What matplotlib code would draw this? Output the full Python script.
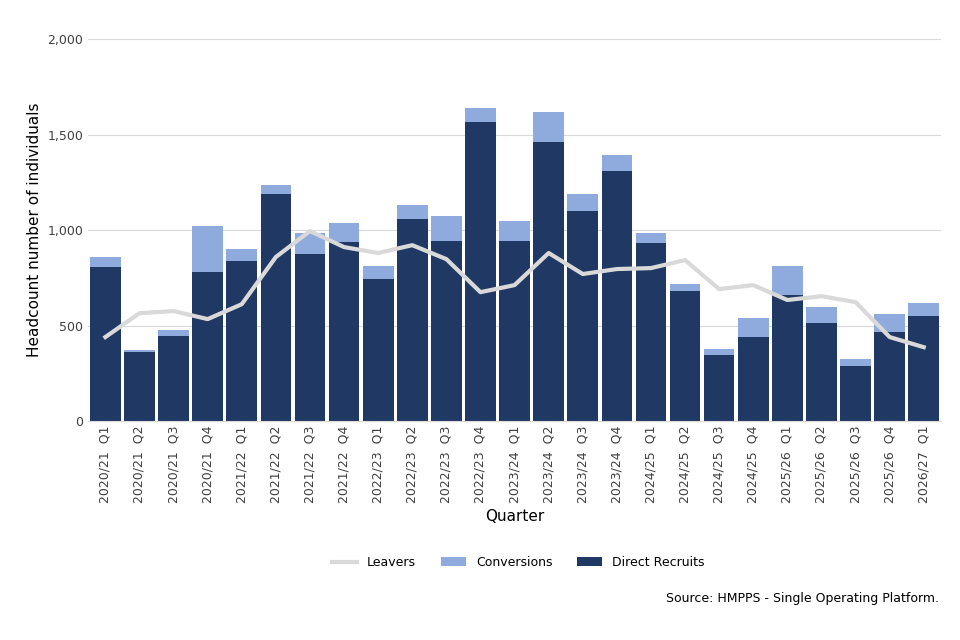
import numpy as np
import matplotlib.pyplot as plt
from matplotlib.ticker import FuncFormatter

quarters = ["2020/21  Q1", "2020/21  Q2", "2020/21  Q3", "2020/21  Q4",
            "2021/22  Q1", "2021/22  Q2", "2021/22  Q3", "2021/22  Q4",
            "2022/23  Q1", "2022/23  Q2", "2022/23  Q3", "2022/23  Q4",
            "2023/24  Q1", "2023/24  Q2", "2023/24  Q3", "2023/24  Q4",
            "2024/25  Q1", "2024/25  Q2", "2024/25  Q3", "2024/25  Q4",
            "2025/26  Q1", "2025/26  Q2", "2025/26  Q3", "2025/26  Q4",
            "2026/27  Q1"]
direct = [806, 361, 445, 780, 838, 1188, 874, 937, 743, 1058, 942, 1565,
          942, 1461, 1099, 1309, 932, 681, 346, 440, 660, 513, 288, 466, 550]
total = [859, 372, 476, 1021, 900, 1236, 984, 1037, 812, 1131, 1073, 1639,
         1047, 1618, 1188, 1393, 984, 717, 377, 539, 812, 597, 325, 560, 618]
leavers = [440, 565, 576, 534, 612, 859, 995, 911, 880, 921, 848, 675,
           712, 880, 770, 796, 801, 843, 691, 712, 634, 654, 623, 440, 387]

conversions = np.array(total) - np.array(direct)
x = np.arange(len(quarters))

fig = plt.figure(figsize=(9.6, 6.4), dpi=100)
ax = fig.add_axes([0.092, 0.342, 0.888, 0.597])

ax.bar(x, direct, width=0.9, color="#203864", label="Direct Recruits", zorder=2)
ax.bar(x, conversions, bottom=direct, width=0.9, color="#8faadc",
       label="Conversions", zorder=2)
ax.plot(x, leavers, color="#d9d9d9", lw=3, label="Leavers", zorder=3)

ax.set_xlim(-0.5, len(quarters) - 0.5)
ax.set_ylim(0, 2000)
ax.set_yticks([0, 500, 1000, 1500, 2000])
ax.yaxis.set_major_formatter(FuncFormatter(lambda v, p: f"{v:,.0f}"))
ax.set_xticks(x)
ax.set_xticklabels(quarters, rotation=90, fontsize=9, color="#404040")
ax.tick_params(axis="y", labelsize=9, colors="#404040", length=0)
ax.tick_params(axis="x", length=0)
ax.grid(axis="y", color="#d9d9d9", lw=0.8, zorder=0)
for s in ["top", "right", "left"]:
    ax.spines[s].set_visible(False)
ax.spines["bottom"].set_color("#d9d9d9")

ax.set_xlabel("Quarter", fontsize=11)
ax.set_ylabel("Headcount number of individuals", fontsize=11)

h, l = ax.get_legend_handles_labels()
order = [l.index("Leavers"), l.index("Conversions"), l.index("Direct Recruits")]
fig.legend([h[i] for i in order], [l[i] for i in order], loc="center",
           bbox_to_anchor=(0.54, 0.121), ncol=3, frameon=False, fontsize=9)
fig.text(0.978, 0.06, "Source: HMPPS - Single Operating Platform.",
         ha="right", fontsize=9)

fig.savefig("out.png", dpi=100)
